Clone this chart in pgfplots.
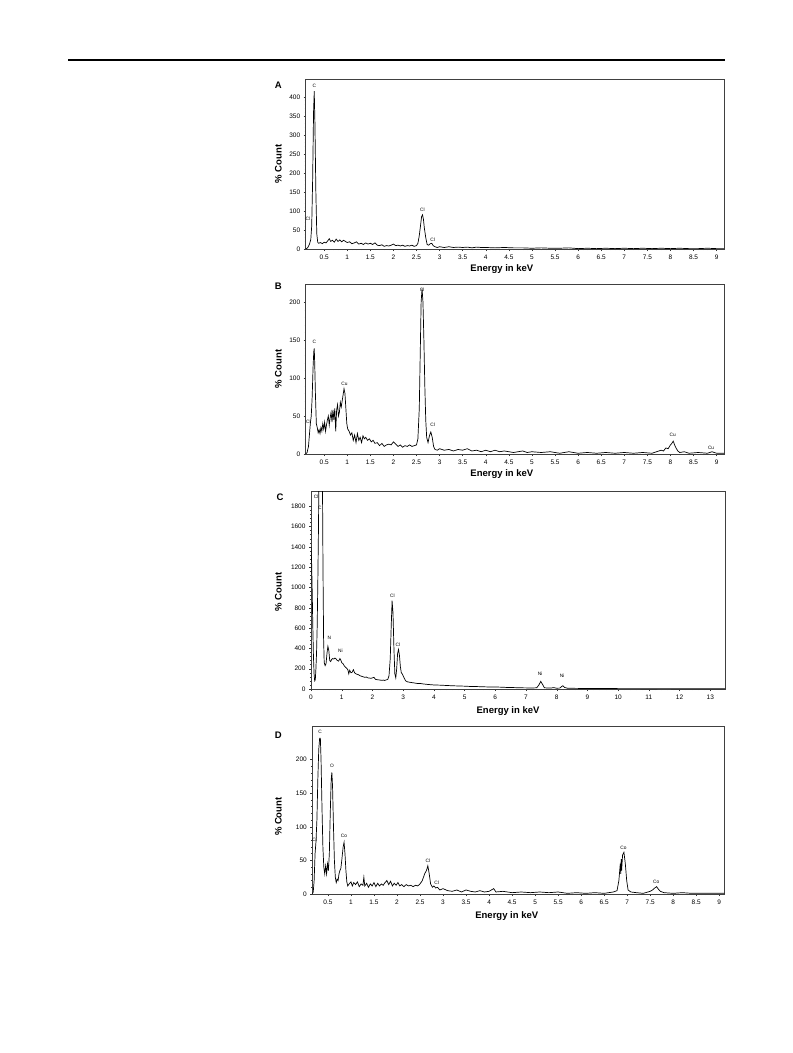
\documentclass[border=0pt]{standalone}
\usepackage{pgfplots}
\pgfplotsset{compat=1.18}
\usepackage{fontspec}
\setmainfont{Liberation Sans}
\setsansfont{Liberation Sans}

\tikzset{pk/.style={font=\fontsize{4.8}{5}\selectfont, inner sep=0pt}}
\pgfplotsset{
  eds/.style={
    scale only axis,
    anchor=south west,
    axis line style={draw=black!75, line width=0.6pt},
    tick align=outside,
    xtick pos=bottom, ytick pos=left,
    major tick length=2pt, minor tick length=1.2pt,
    tick style={black!80, line width=0.4pt},
    minor x tick num=4, minor y tick num=4,
    tick label style={font=\fontsize{6.5}{7}\selectfont},
    /pgf/number format/assume math mode=true,
    /pgf/number format/1000 sep={},
    scaled ticks=false,
    every axis x label/.style={anchor=center, font=\bfseries\fontsize{9.5}{10}\selectfont},
    every axis y label/.style={anchor=center, rotate=90, font=\bfseries\fontsize{9.5}{10}\selectfont},
    xlabel={Energy in keV}, ylabel={\% Count},
    ymin=0,
  },
  spec/.style={black, line width=0.7pt, sharp plot, mark=none},
}

\begin{document}
\begin{tikzpicture}
\path[use as bounding box] (0pt,0pt) rectangle (793pt,-1053pt);
\draw[line width=1.3pt] (68pt,-60pt) -- (725pt,-60pt);

\node[font=\bfseries\fontsize{9.5}{10}\selectfont] at (278.3pt,-85.7pt) {A};
\node[font=\bfseries\fontsize{9.5}{10}\selectfont] at (278.3pt,-286.7pt) {B};
\node[font=\bfseries\fontsize{9.5}{10}\selectfont] at (280pt,-497.7pt) {C};
\node[font=\bfseries\fontsize{9.5}{10}\selectfont] at (278.3pt,-735pt) {D};

% ---------------- A ----------------
\begin{axis}[eds, at={(305.7pt,-249pt)}, width=418.3pt, height=170pt,
  xmin=0.10, xmax=9.16, ymax=447,
  xtick={0.5,1,1.5,2,2.5,3,3.5,4,4.5,5,5.5,6,6.5,7,7.5,8,8.5,9},
  ytick={0,50,100,150,200,250,300,350,400},
  x label style={at={(axis description cs:0.469,-0.119)}},
  y label style={at={(axis description cs:-0.0655,0.5)}}]
\addplot[spec] coordinates {
(0.10,0) (0.14,3) (0.18,12) (0.21,25) (0.23,60) (0.25,180) (0.27,360) (0.285,415)
(0.30,330) (0.32,150) (0.34,40) (0.36,18) (0.38,15) (0.42,17) (0.46,14) (0.50,18)
(0.54,16) (0.58,22) (0.61,27) (0.64,20) (0.68,23) (0.72,18) (0.76,26) (0.80,20)
(0.84,24) (0.88,19) (0.92,23) (0.96,20) (1.00,17) (1.05,19) (1.10,14) (1.15,16)
(1.20,19) (1.25,13) (1.30,15) (1.35,12) (1.40,16) (1.45,13) (1.50,15) (1.55,12)
(1.60,16) (1.65,10) (1.70,9) (1.75,11) (1.80,7) (1.85,9) (1.90,8) (1.95,10)
(2.00,13) (2.05,9) (2.10,10) (2.15,8) (2.20,10) (2.25,7) (2.30,9) (2.35,8)
(2.40,10) (2.45,7) (2.50,9) (2.53,15) (2.56,35) (2.59,65) (2.61,85) (2.63,90)
(2.65,78) (2.67,55) (2.70,30) (2.73,12) (2.76,10) (2.80,14) (2.83,15) (2.86,9)
(2.90,6) (2.95,4) (3.00,6) (3.1,4) (3.2,6) (3.3,4) (3.4,5) (3.5,4) (3.6,5) (3.7,3)
(3.8,5) (3.9,4) (4.0,4) (4.2,3) (4.4,4) (4.6,3) (4.8,3) (5.0,2) (5.2,3) (5.4,2)
(5.6,2) (5.8,3) (6.0,1) (6.2,2) (6.4,1) (6.6,2) (6.8,1) (7.0,2) (7.2,1) (7.4,2)
(7.6,1) (7.8,2) (8.0,1) (8.2,2) (8.4,1) (8.6,1) (8.8,2) (9.0,1) (9.16,1)
};
\node[pk] at (axis cs:0.285,430) {C};
\node[pk] at (axis cs:0.15,80) {Cl};
\node[pk] at (axis cs:2.63,102) {Cl};
\node[pk] at (axis cs:2.85,25) {Cl};
\end{axis}

% ---------------- B ----------------
\begin{axis}[eds, at={(305.7pt,-454pt)}, width=418.3pt, height=170pt,
  xmin=0.10, xmax=9.16, ymax=224,
  xtick={0.5,1,1.5,2,2.5,3,3.5,4,4.5,5,5.5,6,6.5,7,7.5,8,8.5,9},
  ytick={0,50,100,150,200},
  x label style={at={(axis description cs:0.469,-0.119)}},
  y label style={at={(axis description cs:-0.0655,0.5)}}]
\addplot[spec] coordinates {
(0.10,0) (0.13,2) (0.16,10) (0.18,25) (0.20,40) (0.22,50) (0.24,75) (0.26,115)
(0.275,135) (0.285,139) (0.295,120) (0.31,80) (0.33,40) (0.35,35) (0.37,28) (0.39,32)
(0.41,27) (0.43,35) (0.45,30) (0.47,40) (0.49,33) (0.51,42) (0.53,30) (0.55,38)
(0.57,45) (0.59,50) (0.61,38) (0.63,48) (0.65,55) (0.67,42) (0.69,58) (0.71,45)
(0.73,60) (0.75,30) (0.77,58) (0.79,65) (0.81,50) (0.83,55) (0.85,68) (0.87,62)
(0.89,70) (0.91,78) (0.93,86) (0.95,80) (0.97,60) (0.99,40) (1.01,33) (1.04,30)
(1.07,25) (1.10,28) (1.13,18) (1.16,25) (1.19,15) (1.22,27) (1.25,18) (1.28,22)
(1.31,15) (1.34,24) (1.37,20) (1.40,22) (1.44,18) (1.48,20) (1.52,16) (1.56,18)
(1.60,14) (1.65,15) (1.70,11) (1.75,14) (1.80,10) (1.85,12) (1.90,13) (1.95,12)
(2.00,16) (2.05,13) (2.10,10) (2.15,12) (2.20,9) (2.25,11) (2.30,10) (2.35,12)
(2.40,10) (2.45,11) (2.50,12) (2.53,20) (2.56,60) (2.58,130) (2.60,200) (2.62,218)
(2.64,200) (2.66,150) (2.68,90) (2.70,45) (2.72,22) (2.75,15) (2.78,24) (2.81,29)
(2.84,22) (2.87,10) (2.90,6) (2.95,5) (3.0,7) (3.1,5) (3.2,6) (3.3,4) (3.4,6)
(3.5,5) (3.6,7) (3.7,4) (3.8,5) (3.9,3) (4.0,5) (4.1,3) (4.2,5) (4.3,3) (4.4,4)
(4.5,3) (4.6,2) (4.7,3) (4.8,4) (4.9,2) (5.0,3) (5.2,2) (5.4,3) (5.6,1) (5.8,3)
(6.0,1) (6.2,2) (6.4,1) (6.6,2) (6.8,1) (7.0,2) (7.2,1) (7.4,2) (7.6,1) (7.7,3)
(7.8,5) (7.85,4) (7.9,8) (7.95,7) (8.0,12) (8.03,14) (8.06,17) (8.09,12) (8.12,8)
(8.16,4) (8.2,2) (8.3,3) (8.4,1) (8.6,2) (8.8,1) (8.9,3) (9.0,1) (9.16,1)
};
\node[pk] at (axis cs:0.16,43) {Cl};
\node[pk] at (axis cs:0.285,148) {C};
\node[pk] at (axis cs:0.94,93) {Cu};
\node[pk] at (axis cs:2.62,216) {Cl};
\node[pk] at (axis cs:2.85,38) {Cl};
\node[pk] at (axis cs:8.05,25) {Cu};
\node[pk] at (axis cs:8.88,8) {Cu};
\end{axis}

% ---------------- C ----------------
\begin{axis}[eds, at={(311pt,-689pt)}, width=414pt, height=198pt,
  xmin=0, xmax=13.48, ymax=1950,
  xtick={0,1,2,3,4,5,6,7,8,9,10,11,12,13},
  ytick={0,200,400,600,800,1000,1200,1400,1600,1800},
  x label style={at={(axis description cs:0.476,-0.111)}},
  y label style={at={(axis description cs:-0.079,0.49)}}]
\addplot[spec] coordinates {
(0.00,1400) (0.02,1250) (0.04,950) (0.06,600) (0.08,320) (0.10,150) (0.12,80)
(0.14,90) (0.16,200) (0.18,350) (0.20,600) (0.22,1000) (0.24,1500) (0.26,2100)
(0.28,2600) (0.33,2600) (0.37,2200) (0.39,1200) (0.41,500) (0.43,260) (0.46,230)
(0.49,250) (0.52,350) (0.55,420) (0.58,380) (0.61,280) (0.64,270) (0.67,290)
(0.70,300) (0.74,295) (0.78,305) (0.82,295) (0.86,280) (0.90,275) (0.94,300)
(0.97,285) (1.00,260) (1.04,250) (1.08,230) (1.12,215) (1.16,205) (1.20,190)
(1.23,150) (1.26,185) (1.30,160) (1.34,165) (1.38,190) (1.42,160) (1.46,150)
(1.50,145) (1.55,140) (1.60,130) (1.65,125) (1.70,120) (1.75,115) (1.80,118)
(1.85,110) (1.90,108) (1.95,105) (2.00,110) (2.05,115) (2.10,95) (2.15,92)
(2.20,90) (2.25,88) (2.30,85) (2.35,88) (2.40,84) (2.45,90) (2.50,95) (2.54,130)
(2.58,300) (2.61,600) (2.64,870) (2.67,750) (2.70,400) (2.73,150) (2.76,110)
(2.79,200) (2.82,350) (2.85,390) (2.88,330) (2.91,220) (2.94,160) (2.97,150)
(3.00,130) (3.03,110) (3.08,80) (3.15,70) (3.25,65) (3.35,60) (3.45,55) (3.55,55)
(3.65,50) (3.8,45) (4.0,40) (4.2,38) (4.4,35) (4.6,32) (4.8,30) (5.0,28) (5.2,25)
(5.4,24) (5.6,22) (5.8,20) (6.0,20) (6.2,18) (6.4,15) (6.6,14) (6.8,12) (7.0,11)
(7.2,10) (7.35,12) (7.42,40) (7.48,75) (7.54,45) (7.60,12) (7.7,10) (7.8,9)
(7.9,14) (8.0,8) (8.1,9) (8.15,22) (8.2,32) (8.26,15) (8.35,8) (8.5,7) (8.7,6)
(9.0,5) (9.5,5) (10,4) (10.5,4) (11,3) (11.5,4) (12,3) (12.5,3) (13,3) (13.48,3)
};
\node[pk] at (axis cs:0.17,1890) {Cl};
\node[pk] at (axis cs:0.29,1780) {C};
\node[pk] at (axis cs:0.6,505) {N};
\node[pk] at (axis cs:0.96,375) {Ni};
\node[pk] at (axis cs:2.65,920) {Cl};
\node[pk] at (axis cs:2.83,440) {Cl};
\node[pk] at (axis cs:7.46,148) {Ni};
\node[pk] at (axis cs:8.18,128) {Ni};
\end{axis}

% ---------------- D ----------------
\begin{axis}[eds, at={(312.3pt,-894pt)}, width=412pt, height=168pt,
  xmin=0.16, xmax=9.11, ymax=250,
  xtick={0.5,1,1.5,2,2.5,3,3.5,4,4.5,5,5.5,6,6.5,7,7.5,8,8.5,9},
  ytick={0,50,100,150,200},
  x label style={at={(axis description cs:0.472,-0.131)}},
  y label style={at={(axis description cs:-0.0825,0.46)}}]
\addplot[spec] coordinates {
(0.16,0) (0.18,3) (0.20,20) (0.22,60) (0.24,78) (0.26,110) (0.28,170) (0.30,215)
(0.32,232) (0.335,232) (0.35,200) (0.37,130) (0.39,70) (0.41,40) (0.43,30) (0.45,42)
(0.47,30) (0.49,45) (0.51,35) (0.53,60) (0.55,120) (0.57,170) (0.585,181) (0.60,160)
(0.62,100) (0.64,50) (0.66,25) (0.68,17) (0.70,22) (0.72,20) (0.74,30) (0.76,35)
(0.78,38) (0.80,50) (0.83,70) (0.85,77) (0.87,60) (0.89,35) (0.91,18) (0.93,12)
(0.96,15) (1.00,18) (1.03,12) (1.06,17) (1.10,14) (1.14,18) (1.18,11) (1.22,15)
(1.26,13) (1.28,25) (1.30,12) (1.34,16) (1.38,10) (1.42,15) (1.46,12) (1.50,17)
(1.54,11) (1.58,16) (1.62,12) (1.66,15) (1.70,13) (1.74,17) (1.78,20) (1.82,14)
(1.86,19) (1.90,12) (1.94,16) (1.98,13) (2.02,17) (2.06,12) (2.10,14) (2.15,11)
(2.20,14) (2.25,12) (2.30,13) (2.35,11) (2.40,13) (2.45,12) (2.50,15) (2.55,20)
(2.60,30) (2.64,35) (2.67,42) (2.70,30) (2.73,15) (2.77,10) (2.80,12) (2.84,9)
(2.88,10) (2.93,6) (3.0,8) (3.1,5) (3.2,4) (3.3,6) (3.4,3) (3.5,6) (3.6,4) (3.7,3)
(3.8,5) (3.9,3) (4.0,4) (4.1,8) (4.15,3) (4.3,4) (4.5,2) (4.7,3) (4.9,2) (5.1,3)
(5.3,2) (5.5,3) (5.7,1) (5.9,2) (6.1,1) (6.3,2) (6.5,1) (6.7,3) (6.78,5) (6.82,20)
(6.85,45) (6.86,30) (6.87,52) (6.88,35) (6.90,58) (6.93,62) (6.96,45) (6.99,20)
(7.02,6) (7.08,3) (7.2,2) (7.35,1) (7.5,4) (7.55,6) (7.6,9) (7.64,11) (7.68,7)
(7.72,4) (7.8,2) (8.0,1) (8.2,2) (8.4,1) (8.6,1) (8.8,1) (9.0,1) (9.11,1)
};
\node[pk] at (axis cs:0.21,80) {Cl};
\node[pk] at (axis cs:0.33,242) {C};
\node[pk] at (axis cs:0.59,190) {O};
\node[pk] at (axis cs:0.85,86) {Co};
\node[pk] at (axis cs:2.67,49) {Cl};
\node[pk] at (axis cs:2.86,16) {Cl};
\node[pk] at (axis cs:6.92,69) {Co};
\node[pk] at (axis cs:7.63,18) {Co};
\end{axis}
\end{tikzpicture}
\end{document}
